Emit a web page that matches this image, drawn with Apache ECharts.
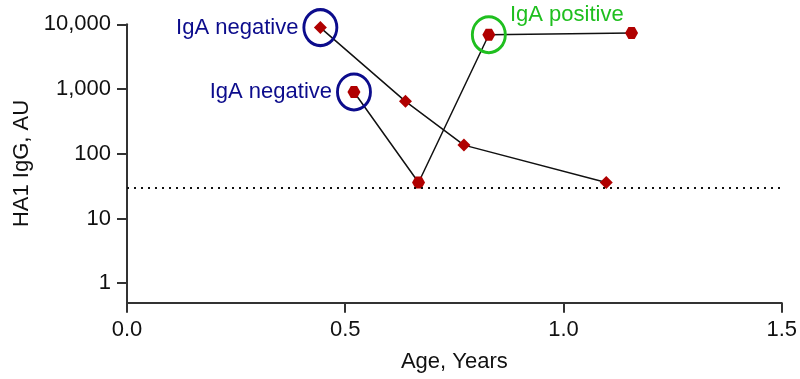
<!DOCTYPE html>
<html>
<head>
<meta charset="utf-8">
<script src="https://cdn.jsdelivr.net/npm/echarts@6/dist/echarts.min.js"></script>
<style>html,body{margin:0;padding:0;background:#fff}#c{width:800px;height:379px}</style>
</head>
<body>
<div id="c"></div>
<script>
// Data
var diamondAges = [0.443, 0.638, 0.772, 1.098];
var diamondIgG  = [8900, 645, 136, 36];
var hexAges = [0.52, 0.668, 0.829, 1.156];
var hexIgG  = [900, 36, 6900, 7350];
var threshold = 30;
var circledAges = [0.443, 0.52, 0.829];
var circledIgG  = [8900, 900, 6900];
var circledText = ['IgA negative', 'IgA negative', 'IgA positive'];
var xTicks = [0, 0.5, 1.0, 1.5];
var yTicks = [1, 10, 100, 1000, 10000];

function pairs(xs, ys){ return xs.map(function(x,i){ return [x, ys[i]]; }); }

var hexPath = 'path://M0,5 L2.6,0 L7.4,0 L10,5 L7.4,10 L2.6,10 Z';
var red = '#b00000';
var navy = '#0c0c8c';
var green = '#1fbf1f';
var font = 'Arial, "Liberation Sans", sans-serif';

var circleColors = [navy, navy, green];
var circleData = circledAges.map(function(x,i){
  return {
    value: [x, circledIgG[i]],
    itemStyle: { borderColor: circleColors[i], opacity: 1 },
    label: {
      show: true,
      formatter: circledText[i],
      color: circleColors[i],
      position: i === 2 ? [39, -11] : 'left',
      distance: 4,
      fontSize: 22,
      fontFamily: font
    }
  };
});

var chart = echarts.init(document.getElementById('c'), null, {renderer: 'canvas'});
chart.setOption({
  animation: false,
  grid: { left: 127, right: 17.5, top: 24.3, bottom: 76.3, containLabel: false },
  xAxis: {
    type: 'value', min: 0, max: 1.5, interval: 0.5,
    name: 'Age, Years', nameLocation: 'middle', nameGap: 48,
    nameTextStyle: { fontSize: 22, fontFamily: font, color: '#111' },
    axisLine: { show: true, lineStyle: { color: '#333', width: 2 } },
    axisTick: { show: true, length: 10, lineStyle: { color: '#333', width: 2 } },
    axisLabel: { fontSize: 22, fontFamily: font, color: '#111', margin: 16,
      formatter: function(v){ return xTicks.indexOf(v) >= 0 ? v.toFixed(1) : ''; } },
    splitLine: { show: false }
  },
  yAxis: {
    type: 'log', min: 0.5, max: 10000, logBase: 10,
    name: 'HA1 IgG, AU', nameLocation: 'middle', nameGap: 92,
    nameTextStyle: { fontSize: 22, fontFamily: font, color: '#111' },
    axisLine: { show: true, lineStyle: { color: '#333', width: 2 } },
    axisTick: { show: true, length: 10, lineStyle: { color: '#333', width: 2 },
      customValues: yTicks },
    axisLabel: { fontSize: 22, fontFamily: font, color: '#111', margin: 16,
      customValues: yTicks,
      formatter: function(v){ return Math.round(v).toLocaleString('en-US'); } },
    splitLine: { show: false }
  },
  series: [
    {
      type: 'line', data: pairs(diamondAges, diamondIgG),
      symbol: 'diamond', symbolSize: 13, showAllSymbol: true,
      lineStyle: { color: '#111', width: 1.5 },
      itemStyle: { color: red, borderWidth: 0, opacity: 1 },
      z: 3,
      markLine: {
        silent: true, symbol: 'none', label: { show: false },
        lineStyle: { color: '#111', type: [2, 5], width: 2 },
        data: [{ yAxis: threshold }]
      }
    },
    {
      type: 'line', data: pairs(hexAges, hexIgG),
      symbol: hexPath, symbolSize: [13, 12], showAllSymbol: true,
      lineStyle: { color: '#111', width: 1.5 },
      itemStyle: { color: red, borderWidth: 0, opacity: 1 },
      z: 3
    },
    {
      type: 'scatter', data: circleData,
      symbol: 'circle', symbolSize: [33, 36],
      itemStyle: { color: 'rgba(0,0,0,0)', borderWidth: 3, opacity: 1 },
      z: 4, silent: true
    }
  ]
});
</script>
</body>
</html>
